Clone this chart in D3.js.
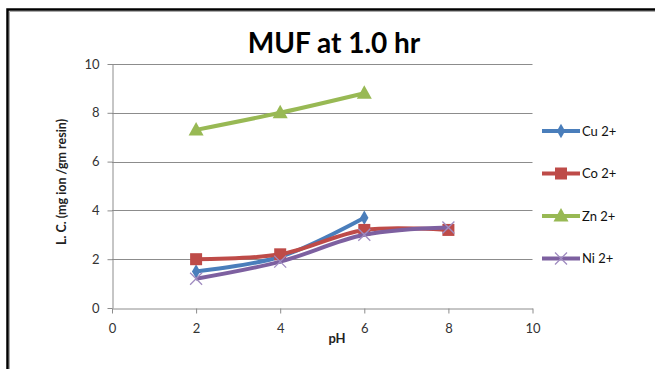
<!DOCTYPE html>
<html>
<head>
<meta charset="utf-8">
<script src="https://cdn.jsdelivr.net/npm/d3@7"></script>
<style>
  body { margin: 0; background: #fff; }
  text { font-family: Lato, "Open Sans", sans-serif; }
</style>
</head>
<body>
<script>
// values
var phValues = [2, 4, 6, 8];
var seriesNames = ["Cu 2+", "Co 2+", "Zn 2+", "Ni 2+"];
var cuValues = [1.5, 2.1, 3.7, null];
var coValues = [2.0, 2.2, 3.2, 3.2];
var znValues = [7.3, 8.0, 8.8, null];
var niValues = [1.2, 1.9, 3.0, 3.3];
var xTicks = [0, 2, 4, 6, 8, 10];
var yTicks = [0, 2, 4, 6, 8, 10];

var colors = ["#4a7ebb", "#be4b48", "#98b954", "#7d60a0"];
var markers = ["diamond", "square", "triangle", "cross"];
var allValues = [cuValues, coValues, znValues, niValues];

var width = 655, height = 369;
var margin = {top: 64, right: 122, bottom: 61, left: 112};

var svg = d3.select("body").append("svg")
    .attr("width", width)
    .attr("height", height);

// outer frame of the chart area
svg.append("path")
    .attr("d", "M7.5,369 V9.5 H655")
    .attr("fill", "none")
    .attr("stroke", "#000")
    .attr("stroke-width", 2.5);
svg.append("path")
    .attr("d", "M9.5,369 V11.5 H655")
    .attr("fill", "none")
    .attr("stroke", "#aaa")
    .attr("stroke-width", 1);

var x = d3.scaleLinear()
    .domain([0, 10])
    .range([margin.left, width - margin.right - 0.5]);

var y = d3.scaleLinear()
    .domain([0, 10])
    .range([height - margin.bottom, margin.top]);

// gridlines
svg.append("g")
  .selectAll("line")
  .data(yTicks.slice(1))
  .enter().append("line")
    .attr("x1", x(0))
    .attr("x2", x(10))
    .attr("y1", function(d) { return Math.round(y(d)) + 0.5; })
    .attr("y2", function(d) { return Math.round(y(d)) + 0.5; })
    .attr("stroke", "#8c8c8c")
    .attr("stroke-width", 1);

// x axis
var xAxis = svg.append("g")
    .attr("transform", "translate(0," + (Math.round(y(0)) + 0.5) + ")")
    .call(d3.axisBottom(x).tickValues(xTicks).tickSize(5).tickSizeOuter(0).tickPadding(10));

// y axis
var yAxis = svg.append("g")
    .attr("transform", "translate(" + (Math.round(x(0)) + 0.5) + ",0)")
    .call(d3.axisLeft(y).tickValues(yTicks).tickSize(5).tickSizeOuter(0).tickPadding(8));

[xAxis, yAxis].forEach(function(g) {
    g.select(".domain").attr("stroke", "#8c8c8c");
    g.selectAll(".tick line").attr("stroke", "#8c8c8c");
    g.selectAll(".tick text")
        .attr("fill", "#333")
        .style("font-size", "13px")
        .style("font-family", "Lato, sans-serif");
});

// title
svg.append("text")
    .attr("x", 334)
    .attr("y", 53)
    .attr("text-anchor", "middle")
    .style("font-size", "28px")
    .style("font-weight", "bold")
    .attr("fill", "#000")
    .text("MUF at 1.0 hr");

// axis titles
svg.append("text")
    .attr("x", 337)
    .attr("y", 343)
    .attr("text-anchor", "middle")
    .style("font-size", "13px")
    .style("font-weight", "bold")
    .attr("fill", "#222")
    .text("pH");

svg.append("text")
    .attr("transform", "translate(66,182) rotate(-90)")
    .attr("text-anchor", "middle")
    .style("font-size", "12.5px")
    .style("font-weight", "bold")
    .attr("fill", "#222")
    .text("L. C. (mg ion /gm resin)");

var line = d3.line()
    .defined(function(d) { return d[1] != null; })
    .x(function(d) { return x(d[0]); })
    .y(function(d) { return y(d[1]); })
    .curve(d3.curveCatmullRom.alpha(0.5));

function drawMarker(g, type, color, cx, cy) {
    if (type == "diamond") {
        g.append("path")
            .attr("d", d3.symbol().type(d3.symbolDiamond).size(60)())
            .attr("transform", "translate(" + cx + "," + cy + ")")
            .attr("fill", color);
    } else if (type == "square") {
        g.append("rect")
            .attr("x", cx - 6).attr("y", cy - 6)
            .attr("width", 12).attr("height", 12)
            .attr("fill", color);
    } else if (type == "triangle") {
        g.append("path")
            .attr("d", "M0,-8 L7.5,5.5 L-7.5,5.5 Z")
            .attr("transform", "translate(" + cx + "," + cy + ")")
            .attr("fill", color);
    } else {
        g.append("path")
            .attr("d", "M-6,-6 L6,6 M-6,6 L6,-6")
            .attr("transform", "translate(" + cx + "," + cy + ")")
            .attr("stroke", "#a08cc0")
            .attr("stroke-width", 1.3)
            .attr("fill", "none");
    }
}

// series
allValues.forEach(function(vals, i) {
    var pts = phValues.map(function(p, j) { return [p, vals[j]]; });
    var g = svg.append("g");
    g.append("path")
        .datum(pts)
        .attr("d", line)
        .attr("fill", "none")
        .attr("stroke", colors[i])
        .attr("stroke-width", 4)
        .attr("stroke-linejoin", "round");
    pts.filter(function(d) { return d[1] != null; }).forEach(function(d) {
        drawMarker(g, markers[i], colors[i], x(d[0]), y(d[1]));
    });
});

// legend
var legend = svg.append("g");
seriesNames.forEach(function(name, i) {
    var ly = 131 + i * 42.5;
    var g = legend.append("g");
    g.append("line")
        .attr("x1", 542).attr("x2", 580)
        .attr("y1", ly).attr("y2", ly)
        .attr("stroke", colors[i])
        .attr("stroke-width", 4);
    drawMarker(g, markers[i], colors[i], 561, ly);
    g.append("text")
        .attr("x", 582)
        .attr("y", ly + 4.5)
        .style("font-size", "13px")
        .attr("fill", "#111")
        .text(name);
});
</script>
</body>
</html>
